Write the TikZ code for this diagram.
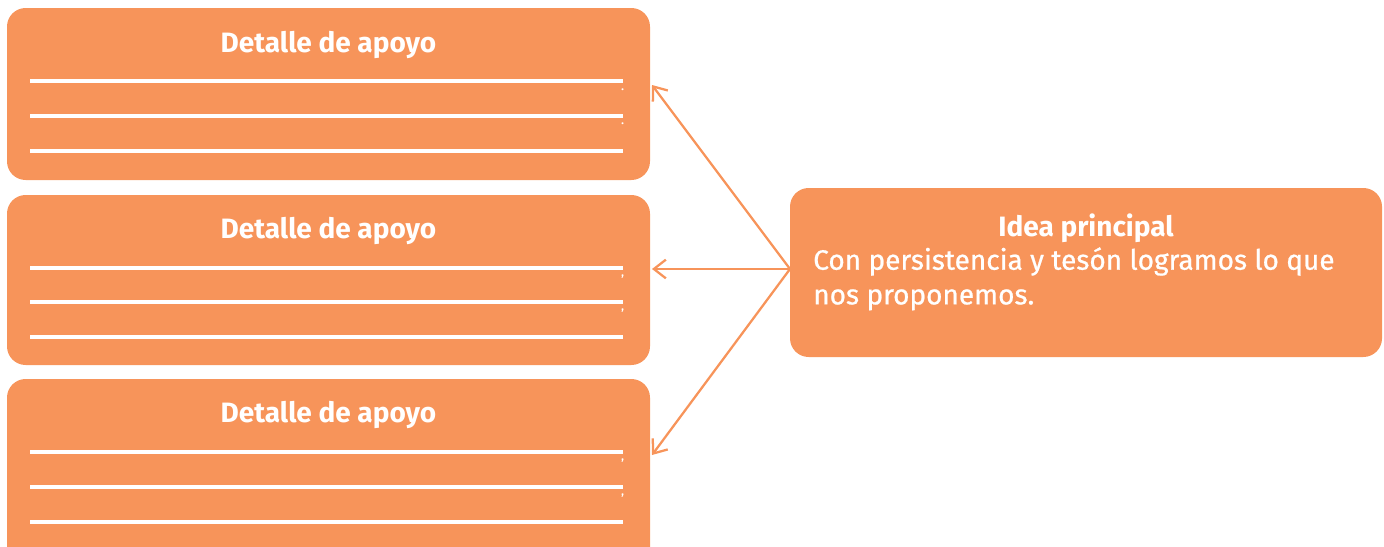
\documentclass[tikz,border=0pt]{standalone}
\usepackage{fontspec}
\setmainfont{Fira Sans}
\newfontfamily\medfont{Fira Sans}[FakeBold=0.8]
\usetikzlibrary{arrows.meta}
\definecolor{boxorange}{RGB}{247,148,90}
\tikzset{
  px/.style={x=0.75pt,y=-0.75pt},
  box/.style={fill=boxorange, rounded corners=14pt},
  wline/.style={draw=white, line width=2.4pt},
  ttl/.style={text=white, font=\bfseries\fontsize{21}{25}\selectfont},
  body/.style={text=white, font=\medfont\fontsize{21}{26}\selectfont, align=left, anchor=north west, inner sep=0pt},
  punct/.style={text=white, font=\bfseries\fontsize{8}{8}\selectfont, inner sep=0pt, anchor=base west},
  conn/.style={draw=boxorange, line width=1.7pt, -{Straight Barb[length=9pt,width=14pt,line width=1.7pt]}},
}
\begin{document}
\begin{tikzpicture}[px]
\useasboundingbox (0,0) rectangle (1384,546);
\begin{scope}
\clip (0,0) rectangle (1384,546);
% boxes
\path[box] (7,8) rectangle (650,180);
\node (d1) at (328.5,94) {};
\path[box] (7,195) rectangle (650,365);
\node (d2) at (328.5,280) {};
\path[box] (7,379) rectangle (650,566);
\node (d3) at (328.5,470) {};
\path[box] (790,188) rectangle (1382,357);
\node (main) at (1086,272) {};
\end{scope}
% titles
\node[ttl] (t1) at (328.5,45) {Detalle de apoyo};
\node[ttl] (t2) at (328.5,231) {Detalle de apoyo};
\node[ttl] (t3) at (328.5,415) {Detalle de apoyo};
\node[ttl] (t4) at (1086,228) {Idea principal};
\node[body] (b) at (813,247) {Con persistencia y tesón logramos lo que\\nos proponemos.};
% writing lines
\foreach \y in {81,116,151,268,302,337,452,487,522}{
  \draw[wline] (30,\y) -- (623,\y);
}
\node[punct] (p1) at (621,90) {.};
\node[punct] (p2) at (621,124) {.};
\node[punct] (p3) at (621,276) {,};
\node[punct] (p4) at (621,310) {,};
\node[punct] (p5) at (621,460) {,};
\node[punct] (p6) at (621,495) {,};
% connectors
\coordinate (m) at (790,269);
\coordinate (e1) at (652,85);
\coordinate (e2) at (652,269);
\coordinate (e3) at (652,455);
\draw[conn] (m) -- (e1);
\draw[conn] (m) -- (e2);
\draw[conn] (m) -- (e3);
\end{tikzpicture}
\end{document}
